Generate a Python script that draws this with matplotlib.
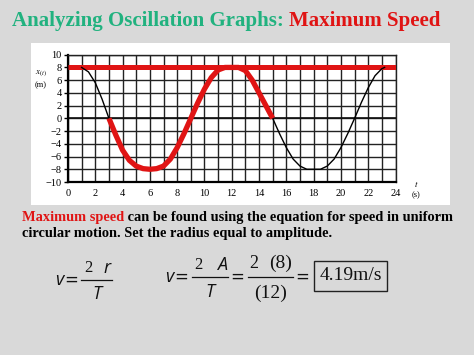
import matplotlib
matplotlib.use("Agg")
import matplotlib.pyplot as plt
from matplotlib.patches import Rectangle
from matplotlib.lines import Line2D

W, H = 474, 355
DPI = 100

# ---- data ----
t_black1 = [1.0, 1.5, 2.0, 2.5, 3.0]
x_black1 = [8.0, 7.3, 5.6, 3.0, 0.0]
t_red = [3.0, 3.5, 4.0, 4.5, 5.0, 5.5, 6.0, 6.5, 7.0, 7.5, 8.0, 8.5, 9.0, 9.5,
         10.0, 10.5, 11.0, 11.5, 12.0, 12.5, 13.0, 13.5, 14.0, 14.5, 15.0]
x_red = [0.0, -2.6, -5.0, -6.6, -7.5, -7.9, -8.0, -7.9, -7.5, -6.4, -4.6, -2.4, 0.0, 2.4,
         4.6, 6.4, 7.6, 8.0, 8.0, 8.0, 7.5, 6.0, 4.0, 2.0, 0.0]
t_black2 = [15.0, 15.5, 16.0, 16.5, 17.0, 17.5, 18.0, 18.5, 19.0, 19.5, 20.0, 20.5,
            21.0, 21.5, 22.0, 22.5, 23.0, 23.2]
x_black2 = [0.0, -2.4, -4.6, -6.4, -7.5, -8.0, -8.0, -8.0, -7.5, -6.4, -4.6, -2.4,
            0.0, 2.5, 4.8, 6.7, 7.8, 8.0]
amplitude = 8
x_ticks = [0, 2, 4, 6, 8, 10, 12, 14, 16, 18, 20, 22, 24]
y_ticks = [10, 8, 6, 4, 2, 0, -2, -4, -6, -8, -10]

fig = plt.figure(figsize=(W / DPI, H / DPI), dpi=DPI)
fig.patch.set_facecolor("#d9d9d9")

def fx(px):
    return px / W

def fy(py):
    return 1 - py / H

# white panel
panel = Rectangle((fx(31), fy(205)), fx(450) - fx(31), fy(43) - fy(205),
                  transform=fig.transFigure, facecolor="white", edgecolor="none", zorder=-5)
fig.add_artist(panel)

serif = "Liberation Serif"
green = "#21b27f"
red = "#e01414"

# title
r = fig.canvas.get_renderer()
t1 = fig.text(fx(12), fy(26), "Analyzing Oscillation Graphs: ", family=serif, weight="bold",
              fontsize=15.0, color=green, va="baseline", ha="left")
bb = t1.get_window_extent(renderer=r)
fig.text(bb.x1 / W, fy(26), "Maximum Speed", family=serif, weight="bold",
         fontsize=15.0, color=red, va="baseline", ha="left")

# axes
ax = fig.add_axes([fx(68), fy(182), fx(395.5) - fx(68), fy(54.7) - fy(182)])
ax.set_zorder(5)
ax.set_facecolor("white")
ax.set_xlim(0, 24)
ax.set_ylim(-10, 10)
for xv in range(0, 25):
    ax.axvline(xv, color="#222222", lw=1.0, zorder=1)
for yv in range(-10, 11, 2):
    ax.axhline(yv, color="#222222", lw=1.0, zorder=1)
ax.axhline(0, color="#111111", lw=1.2, zorder=1)
for s in ax.spines.values():
    s.set_color("#222222")
    s.set_linewidth(1.0)
ax.spines["left"].set_linewidth(1.6)
ax.spines["left"].set_color("black")
ax.spines["bottom"].set_linewidth(1.6)
ax.spines["bottom"].set_color("black")
ax.set_xticks(x_ticks)
ax.set_yticks(y_ticks)
ax.set_xticklabels([str(v) for v in x_ticks], family=serif, fontsize=7.5)
ax.set_yticklabels([("\u2212" + str(-v)) if v < 0 else str(v) for v in y_ticks],
                   family=serif, fontsize=7.5)
ax.tick_params(axis="y", length=3, width=1, pad=1.5, direction="out")
ax.tick_params(axis="x", length=0, pad=5)

ax.axhline(amplitude, color=red, lw=3.6, zorder=3, solid_capstyle="butt")
ax.plot(t_black1, x_black1, color="black", lw=1.0, zorder=4)
ax.plot(t_black2, x_black2, color="black", lw=1.0, zorder=4)
ax.plot(t_red, x_red, color=red, lw=3.8, zorder=5, solid_capstyle="butt", solid_joinstyle="round")

# axis labels
fig.text(fx(41), fy(75), r"$x_{(t)}$", fontsize=6.5, family=serif, ha="center", va="baseline",
         math_fontfamily="stix")
fig.text(fx(41), fy(87), "(m)", fontsize=6, family=serif, ha="center", va="baseline")
fig.text(fx(416), fy(187), r"$t$", fontsize=6.5, ha="center", va="baseline", math_fontfamily="stix")
fig.text(fx(416), fy(197), "(s)", fontsize=6, family=serif, ha="center", va="baseline")

# body text
line_y = fy(221)
t2 = fig.text(fx(22), line_y, "Maximum speed", family=serif, weight="bold", fontsize=10.4,
              color=red, va="baseline")
bb = t2.get_window_extent(renderer=r)
fig.text(bb.x1 / W, line_y, " can be found using the equation for speed in uniform",
         family=serif, weight="bold", fontsize=10.4, color="black", va="baseline")
fig.text(fx(22), fy(237), "circular motion. Set the radius equal to amplitude.",
         family=serif, weight="bold", fontsize=10.4, color="black", va="baseline")

# equations
isans = dict(family="Open Sans", style="italic", color="#111111")
ser = dict(family=serif, color="#111111")
eq = dict(fontsize=12, ha="center", va="center", family="DejaVu Sans", color="#111111")

def hline(x0, x1, y):
    fig.add_artist(Line2D([fx(x0), fx(x1)], [fy(y), fy(y)], transform=fig.transFigure,
                          color="#111111", lw=0.9))

# v = 2 r / T
fig.text(fx(59), fy(280), "v", fontsize=13, ha="center", va="center", **isans)
fig.text(fx(71), fy(280), "=", **eq)
hline(81, 112, 280)
fig.text(fx(88), fy(268), "2", fontsize=12, ha="center", va="center", **ser)
fig.text(fx(107), fy(268), "r", fontsize=13, ha="center", va="center", **isans)
fig.text(fx(97), fy(294), "T", fontsize=13, ha="center", va="center", **isans)

# v = 2 A / T = 2 (8) / (12) = 4.19 m/s
fig.text(fx(169), fy(277), "v", fontsize=13, ha="center", va="center", **isans)
fig.text(fx(181), fy(277), "=", **eq)
hline(192, 228, 277)
fig.text(fx(198), fy(265), "2", fontsize=12, ha="center", va="center", **ser)
fig.text(fx(222), fy(265), "A", fontsize=13, ha="center", va="center", **isans)
fig.text(fx(210), fy(292), "T", fontsize=13, ha="center", va="center", **isans)
fig.text(fx(237), fy(277), "=", **eq)
hline(248, 293, 277)
fig.text(fx(254), fy(263), "2", fontsize=13, ha="center", va="center", **ser)
fig.text(fx(281), fy(263), "(8)", fontsize=14, ha="center", va="center", **ser)
fig.text(fx(271), fy(293), "(12)", fontsize=14, ha="center", va="center", **ser)
fig.text(fx(302), fy(277), "=", **eq)
fig.add_artist(Rectangle((fx(314), fy(291)), fx(387) - fx(314), fy(261) - fy(291),
                         transform=fig.transFigure, facecolor="none", edgecolor="#222222", lw=1.0))
fig.text(fx(350.5), fy(276), "4.19m/s", fontsize=14, ha="center", va="center", **ser)

fig.savefig("out.png", dpi=DPI, facecolor=fig.get_facecolor())
